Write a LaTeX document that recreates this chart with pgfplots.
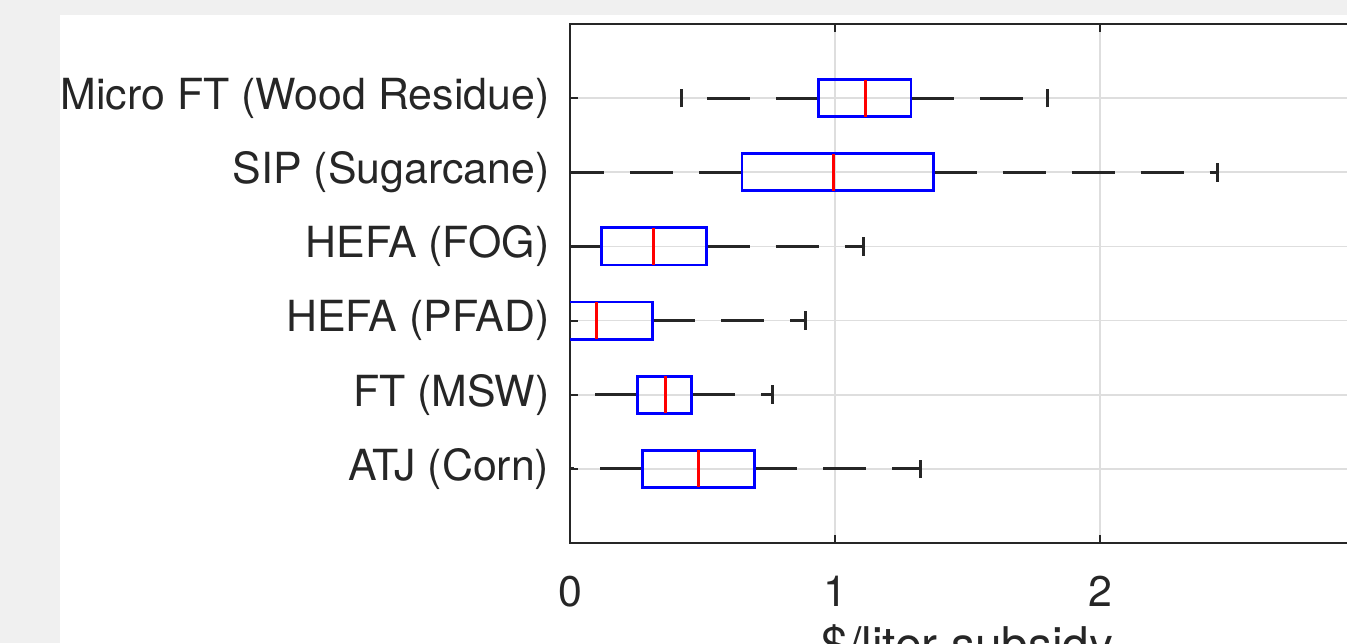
\documentclass[border=0pt]{standalone}
\usepackage{fontspec}
\setmainfont{TeX Gyre Heros}
\usepackage{pgfplots}
\pgfplotsset{compat=1.18}
\usepgfplotslibrary{statistics}
\definecolor{axc}{RGB}{38,38,38}
\definecolor{gridc}{RGB}{222,222,222}
\definecolor{figbg}{RGB}{240,240,240}
\definecolor{boxc}{RGB}{0,0,255}
\definecolor{medc}{RGB}{255,0,0}

\begin{document}
\begin{tikzpicture}
% the reference is a crop of a larger figure: fix the frame, clip to it
\useasboundingbox (0,0) rectangle (377.16pt,180.04pt);
\clip (0,0) rectangle (377.16pt,180.04pt);
\fill[figbg] (0,0) rectangle (377.16pt,180.04pt);
\fill[white] (16.8pt,0) rectangle (377.16pt,175.84pt);
\begin{axis}[
  at={(159.6pt,28pt)}, anchor=south west,
  scale only axis, width=222.6pt, height=145.32pt,
  xmin=0, xmax=3, ymin=0, ymax=7,
  xtick={0,1,2,3}, ytick={1,...,6},
  yticklabels={ATJ (Corn),FT (MSW),HEFA (PFAD),HEFA (FOG),SIP (Sugarcane),Micro FT (Wood Residue)},
  tick align=inside, major tick length=2.3pt,
  axis line style={axc, line width=0.56pt},
  tick style={axc, line width=0.56pt},
  grid=major, major grid style={gridc, line width=0.45pt},
  ticklabel style={font=\fontsize{12}{14}\selectfont, text=axc},
  /pgf/number format/assume math mode=true,
  xticklabel style={anchor=north, inner sep=0pt, yshift=-9pt},
  yticklabel style={anchor=east, inner sep=0pt, xshift=-5.6pt},
  xlabel={\$/liter subsidy},
  xlabel style={font=\fontsize{13.4}{15}\selectfont, text=axc, at={(axis description cs:0.5,0)}, anchor=base, yshift=-33.3pt},
  every axis title shift=0pt,
  title={Implied Subsidy Distribution},
  title style={font=\fontsize{15.9}{18}\selectfont\bfseries, text=black, at={(axis description cs:0.5,1)}, anchor=base, yshift=10.8pt},
  boxplot/draw direction=x,
  boxplot/box extend=0.5,
  boxplot/whisker extend=0.25,
  boxplot/every box/.style={boxc, line width=0.8pt},
  boxplot/every median/.style={medc, line width=0.8pt},
  boxplot/every whisker/.style={black!85, line width=0.85pt, dash pattern=on 12.04pt off 7.28pt},
]
% ATJ (Corn)
\addplot[boxplot prepared={lower whisker=-0.143, lower quartile=0.274, median=0.484, upper quartile=0.696, upper whisker=1.323, draw position=1}] coordinates {};
% FT (MSW)
\addplot[boxplot prepared={lower whisker=-0.16, lower quartile=0.255, median=0.359, upper quartile=0.460, upper whisker=0.763, draw position=2}] coordinates {};
% HEFA (PFAD)
\addplot[boxplot prepared={lower whisker=-0.3, lower quartile=-0.01, median=0.10, upper quartile=0.311, upper whisker=0.889, draw position=3}] coordinates {};
% HEFA (FOG)
\addplot[boxplot prepared={lower whisker=-0.045, lower quartile=0.118, median=0.314, upper quartile=0.516, upper whisker=1.106, draw position=4}] coordinates {};
% SIP (Sugarcane)
\addplot[boxplot prepared={lower whisker=-0.04, lower quartile=0.649, median=0.995, upper quartile=1.372, upper whisker=2.443, draw position=5}] coordinates {};
% Micro FT (Wood Residue)
\addplot[boxplot prepared={lower whisker=0.42, lower quartile=0.938, median=1.116, upper quartile=1.287, upper whisker=1.803, draw position=6}] coordinates {};
\end{axis}
\end{tikzpicture}
\end{document}
